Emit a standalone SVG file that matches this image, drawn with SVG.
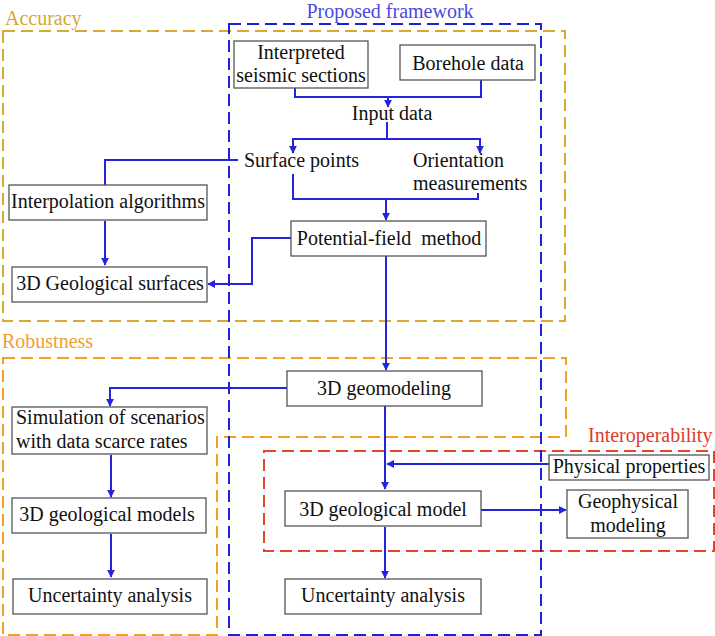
<svg xmlns="http://www.w3.org/2000/svg" width="715" height="636" viewBox="0 0 715 636" font-family="'Liberation Serif','DejaVu Serif','Times New Roman',serif">
<style>
text{font-family:'Liberation Serif','DejaVu Serif','Times New Roman',serif;font-size:20px;fill:#111}
.c{text-anchor:middle}
.box{fill:#fff;stroke:#555;stroke-width:1.3}
.grp{fill:none;stroke-width:2;stroke-dasharray:12 6}
.con{fill:none;stroke:#2424dc;stroke-width:2}
.arr{marker-end:url(#ah)}
</style>
<defs>
<marker id="ah" viewBox="0 0 10 10" refX="9" refY="5" markerWidth="4" markerHeight="4" markerUnits="strokeWidth" orient="auto">
<path d="M0,0 L10,5 L0,10 z" fill="#2424dc"/>
</marker>
</defs>
<g id="groups">
<rect class="grp" x="3" y="31" width="562" height="290" stroke="#d9aa30"/>
<path class="grp" d="M3,358 H566 V437 H217 V635 H3 Z" stroke="#f5a020"/>
<rect class="grp" x="264" y="451" width="450" height="100" stroke="#e8442a"/>
<rect class="grp" x="229" y="24" width="312" height="611" stroke="#2020d8"/>
<text x="5" y="25" style="fill:#d4a830">Accuracy</text>
<text x="390" y="18" class="c" style="fill:#4a4ae0">Proposed framework</text>
<text x="2" y="348" style="fill:#f0a030">Robustness</text>
<text x="588" y="442" style="fill:#e03a2a">Interoperability</text>
</g>
<g id="connectors">
<path class="con" d="M295,88 V97 H481 V80"/>
<path class="con arr" d="M388,97 V107"/>
<path class="con" d="M387,122 V139"/>
<path class="con arr" d="M293,139 H480 V153"/>
<path class="con arr" d="M387,139 H293 V153"/>
<path class="con" d="M238,160 H105 V185"/>
<path class="con" d="M293,174 V199 H478 V193"/>
<path class="con arr" d="M386,199 V220"/>
<path class="con arr" d="M105,221 V265"/>
<path class="con arr" d="M291,238 H252 V284 H208"/>
<path class="con arr" d="M386,256 V370"/>
<path class="con arr" d="M287,388 H110 V406"/>
<path class="con arr" d="M111,455 V497"/>
<path class="con arr" d="M111,534 V577"/>
<path class="con arr" d="M385,406 V489"/>
<path class="con arr" d="M549,464 H387"/>
<path class="con arr" d="M481,510 H566"/>
<path class="con arr" d="M385,527 V578"/>
</g>
<g id="n-seismic"><rect class="box" x="234" y="41" width="134" height="47"/><text x="301" y="59" class="c">Interpreted</text><text x="301" y="82" class="c">seismic sections</text></g>
<g id="n-borehole"><rect class="box" x="400" y="45" width="135" height="35"/><text x="468" y="70" class="c">Borehole data</text></g>
<g id="n-input"><text x="392" y="120" class="c">Input data</text></g>
<g id="n-surface"><text x="244" y="167">Surface points</text></g>
<g id="n-orientation"><text x="413" y="167">Orientation</text><text x="413" y="190">measurements</text></g>
<g id="n-interp"><rect class="box" x="9" y="185" width="198" height="35"/><text x="108" y="208" class="c">Interpolation algorithms</text></g>
<g id="n-surfaces"><rect class="box" x="12" y="267" width="195" height="35"/><text x="110" y="290" class="c">3D Geological surfaces</text></g>
<g id="n-potential"><rect class="box" x="291" y="221" width="195" height="35"/><text x="389" y="245" class="c" xml:space="preserve">Potential-field  method</text></g>
<g id="n-geomodeling"><rect class="box" x="287" y="371" width="195" height="35"/><text x="384" y="395" class="c">3D geomodeling</text></g>
<g id="n-simulation"><rect class="box" x="12" y="407" width="195" height="47"/><text x="16" y="424">Simulation of scenarios</text><text x="16" y="448">with data scarce rates</text></g>
<g id="n-models"><rect class="box" x="12" y="498" width="194" height="35"/><text x="107" y="521" class="c">3D geological models</text></g>
<g id="n-unc-left"><rect class="box" x="13" y="579" width="194" height="35"/><text x="110" y="602" class="c">Uncertainty analysis</text></g>
<g id="n-physical"><rect class="box" x="549" y="455" width="160" height="25"/><text x="629" y="473" class="c">Physical properties</text></g>
<g id="n-model"><rect class="box" x="285" y="491" width="196" height="35"/><text x="383" y="516" class="c">3D geological model</text></g>
<g id="n-geophys"><rect class="box" x="567" y="490" width="121" height="48"/><text x="628" y="508" class="c">Geophysical</text><text x="628" y="532" class="c">modeling</text></g>
<g id="n-unc-right"><rect class="box" x="285" y="579" width="196" height="35"/><text x="383" y="602" class="c">Uncertainty analysis</text></g>
</svg>
